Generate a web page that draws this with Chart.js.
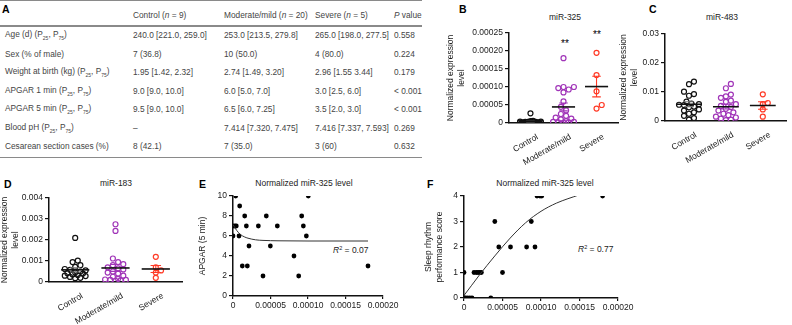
<!DOCTYPE html>
<html>
<head>
<meta charset="utf-8">
<script src="https://cdn.jsdelivr.net/npm/chart.js@4.4.0/dist/chart.umd.min.js"></script>
<style>
  body { margin: 0; background: #fff; font-family: "Liberation Sans", Arial, sans-serif; }
  #fig { position: relative; width: 792px; height: 325px; overflow: hidden; }
  .abs { position: absolute; white-space: nowrap; }
  .letter { font-weight: bold; font-size: 10.5px; color: #000; }
  .ptitle { font-size: 8.5px; color: #222; transform: translate(-50%, -50%); }
  .cell { font-size: 8.3px; color: #444; transform: translateY(-50%); }
  .rule { position: absolute; left: 0; width: 422px; background: #8a8a8a; }
  .r2 { font-size: 8.5px; color: #222; transform: translateY(-50%); }
  .r2 sup { font-size: 5.5px; vertical-align: 3px; }
  .stars { font-size: 10px; color: #000; transform: translate(-50%, -50%); }
  canvas { position: absolute; }
</style>
</head>
<body>
<div id="fig"></div>
<script>
// ---- table A ----
const tableHeaders = ['', 'Control (<i>n</i> = 9)', 'Moderate/mild (<i>n</i> = 20)', 'Severe (<i>n</i> = 5)', '<i>P</i> value'];
const rowLabels = ['Age (d) (P25, P75)', 'Sex (% of male)', 'Weight at birth (kg) (P25, P75)', 'APGAR 1 min (P25, P75)',
  'APGAR 5 min (P25, P75)', 'Blood pH (P25, P75)', 'Cesarean section cases (%)'];
const controlCol = ['240.0 [221.0, 259.0]', '7 (36.8)', '1.95 [1.42, 2.32]', '9.0 [9.0, 10.0]', '9.5 [9.0, 10.0]', '–', '8 (42.1)'];
const moderateCol = ['253.0 [213.5, 279.8]', '10 (50.0)', '2.74 [1.49, 3.20]', '6.0 [5.0, 7.0]', '6.5 [6.0, 7.25]', '7.414 [7.320, 7.475]', '7 (35.0)'];
const severeCol = ['265.0 [198.0, 277.5]', '4 (80.0)', '2.96 [1.55 3.44]', '3.0 [2.5, 6.0]', '3.5 [2.0, 3.0]', '7.416 [7.337, 7.593]', '3 (60)'];
const pCol = ['0.558', '0.224', '0.179', '< 0.001', '< 0.001', '0.269', '0.632'];

// ---- scatter dot plots (normalized expression) ----
const groups = ['Control', 'Moderate/mild', 'Severe'];
const b325Control = [0.000027, 0.000006, 0.000005, 0.000004, 0.000004, 0.000003, 0.000003, 0.000003, 0.000002, 0.000002,
  0.000002, 0.000002, 0.000001, 0.000001, 0.000001, 0.000001, 0.000001, 0.000001, 0.0000005];
const b325Moderate = [0.00018, 0.0001, 0.0001, 0.000097, 0.000093, 0.000085, 0.00006, 0.000045, 0.000035, 0.000025,
  0.00002, 0.000015, 0.000012, 0.00001, 0.000005, 0.000003, 0.000003, 0.000002, 0.000002, 0.000001];
const b325Severe = [0.000195, 0.000133, 0.000088, 0.00005, 0.00004];
const c483Control = [0.0136, 0.0127, 0.0101, 0.0093, 0.0087, 0.0067, 0.006, 0.0058, 0.0056, 0.0055,
  0.005, 0.0047, 0.004, 0.0036, 0.003, 0.0025, 0.0018, 0.001, 0.0005];
const c483Moderate = [0.0128, 0.0113, 0.0091, 0.0085, 0.008, 0.007, 0.0066, 0.0058, 0.0052, 0.0048,
  0.0042, 0.0036, 0.003, 0.0025, 0.002, 0.0015, 0.0012, 0.0008, 0.0005, 0.0003];
const c483Severe = [0.0092, 0.0062, 0.0058, 0.004, 0.0015];
const d183Control = [0.0021, 0.00102, 0.00095, 0.0008, 0.00072, 0.00062, 0.00058, 0.00055, 0.0005, 0.00045,
  0.00042, 0.0004, 0.00036, 0.00033, 0.0003, 0.00028, 0.00024, 0.0002, 0.00018];
const d183Moderate = [0.00275, 0.00243, 0.00112, 0.00095, 0.00085, 0.0008, 0.0007, 0.00065, 0.0006, 0.0005,
  0.00045, 0.0004, 0.0003, 0.00025, 0.00015, 0.00012, 0.0001, 0.0001, 0.00008, 0.00006];
const d183Severe = [0.0012, 0.0007, 0.00055, 0.00045, 0.0002];

// ---- correlation panels ----
const apgarX = [0.0000036, 0.0000089, 0.0000156, 0, 0.0000027, 0.0000044, 0.0000178, 0, 0.000008, 0.0000124,
  0.0000191, 0.0000213, 0.0000338, 0.00004, 0.0000444, 0.0000498, 0.0000591, 0.0000813, 0.0000876, 0.0000916,
  0.0000938, 0.0000978, 0.0001004, 0.00018];
const apgarY = [10, 9, 8, 7, 7, 7, 7, 6, 6, 3, 3, 5, 7, 2, 8, 5, 7, 4, 2, 8, 7, 6, 10, 3];
const apgarFitX = [0, 0.000002, 0.000005, 0.00001, 0.000015, 0.00002, 0.00003, 0.00004, 0.00006, 0.0001, 0.00018];
const apgarFitY = [7.15, 6.9, 6.55, 6.15, 5.92, 5.78, 5.62, 5.56, 5.52, 5.5, 5.5];
const sleepX = [0, 0, 0.0000017, 0.0000043, 0.0000074, 0.0000104, 0.000013, 0.000016, 0.0000183, 0.0000204, 0.0000226,
  0.0000348, 0.00004, 0.0000452, 0.00005, 0.0000604, 0.0000813, 0.0000874, 0.0000922, 0.0000948, 0.0000987, 0.000101, 0.00018];
const sleepY = [1, 0, 0, 0, 0, 0, 1, 1, 1, 1, 1, 0, 3, 2, 1, 2, 2, 3, 2, 4, 4, 4, 4];
const sleepFitX = [0, 0.00001, 0.00002, 0.00004, 0.00006, 0.00008, 0.0001, 0.00012, 0.00015];
const sleepFitY = [0.1, 0.5, 0.9, 1.65, 2.35, 2.95, 3.4, 3.72, 4.05];

const colorControl = '#111111';
const colorModerate = '#a034b8';
const colorSevere = '#ff3a26';

const fig = document.getElementById('fig');

function addDiv(cls, html, left, top) {
  const d = document.createElement('div');
  d.className = 'abs ' + cls;
  d.innerHTML = html;
  d.style.left = left + 'px';
  d.style.top = top + 'px';
  fig.appendChild(d);
  return d;
}

function withSubs(text) {
  return text.replace(/P(25|75)/g, 'P<sub style="font-size:5px">$1</sub>');
}

// table
const colX = [5, 133, 224, 315, 394];
const rowY = [35, 53.5, 72, 90.5, 109, 127.5, 146];
tableHeaders.forEach((h, i) => { if (h) addDiv('cell', h, colX[i], 15); });
[rowLabels, controlCol, moderateCol, severeCol, pCol].forEach((col, c) => {
  col.forEach((t, r) => addDiv('cell', withSubs(t), colX[c], rowY[r]));
});
[[0, 1], [25, 2], [157, 1]].forEach(([y, h]) => {
  const l = document.createElement('div');
  l.className = 'rule';
  l.style.top = y + 'px';
  l.style.height = h + 'px';
  fig.appendChild(l);
});

// letters, titles, annotations
addDiv('letter', 'A', 2, 3);
addDiv('letter', 'B', 459, 3);
addDiv('letter', 'C', 649, 3);
addDiv('letter', 'D', 4, 178);
addDiv('letter', 'E', 199, 178);
addDiv('letter', 'F', 427, 178);
addDiv('ptitle', 'miR-325', 565, 17);
addDiv('ptitle', 'miR-483', 722, 17);
addDiv('ptitle', 'miR-183', 116, 183);
addDiv('ptitle', 'Normalized miR-325 level', 304, 183);
addDiv('ptitle', 'Normalized miR-325 level', 545, 183);
addDiv('stars', '**', 565, 43);
addDiv('stars', '**', 597, 34);
addDiv('r2', '<i>R</i><sup>2</sup> = 0.07', 333, 250);
addDiv('r2', '<i>R</i><sup>2</sup> = 0.77', 578, 249);

Chart.defaults.font.family = '"Liberation Sans", Arial, sans-serif';
Chart.defaults.font.size = 8.5;
Chart.defaults.color = '#1a1a1a';
Chart.defaults.animation = false;
Chart.defaults.plugins.legend.display = false;
Chart.defaults.plugins.tooltip.enabled = false;

function makeCanvas(left, top, w, h) {
  const c = document.createElement('canvas');
  c.width = w; c.height = h;
  c.style.left = left + 'px'; c.style.top = top + 'px';
  c.style.width = w + 'px'; c.style.height = h + 'px';
  fig.appendChild(c);
  return c.getContext('2d');
}

function mean(a) { return a.reduce((s, v) => s + v, 0) / a.length; }
function sem(a) {
  const m = mean(a);
  const sd = Math.sqrt(a.reduce((s, v) => s + (v - m) * (v - m), 0) / (a.length - 1));
  return sd / Math.sqrt(a.length);
}

// spread points sideways so they don't sit on top of each other
function swarm(values, pxPerY, pxPerX, diam, maxPx) {
  const order = values.map((v, i) => i).sort((a, b) => values[a] - values[b]);
  const placed = [];
  const offs = new Array(values.length).fill(0);
  const slots = [0];
  for (let k = 1; k * diam * 0.5 <= maxPx; k++) slots.push(k * diam * 0.5, -k * diam * 0.5);
  order.forEach(i => {
    const py = values[i] * pxPerY;
    let best = 0, bestD = -1;
    for (const s of slots) {
      let dmin = Infinity;
      placed.forEach(p => { const d = Math.hypot(p.x - s, p.y - py); if (d < dmin) dmin = d; });
      if (dmin >= diam) { best = s; break; }
      if (dmin > bestD) { bestD = dmin; best = s; }
    }
    placed.push({ x: best, y: py });
    offs[i] = best / pxPerX;
  });
  return offs;
}

function yAxisFixed(w) { return s => { s.width = w; }; }
function xAxisFixed(h) { return s => { s.height = h; }; }

function dotPlot(ctx, opt) {
  const cols = [colorControl, colorModerate, colorSevere];
  const semCols = ['#777777', colorModerate, colorSevere];
  const pxX = opt.areaW / 3.3;
  const pxY = opt.areaH / opt.yMax;
  const lines = [];
  const dots = [];
  opt.data.forEach((vals, g) => {
    const x = g + 1;
    const m = mean(vals), s = sem(vals);
    lines.push({
      data: [{ x: x - 0.35, y: m }, { x: x + 0.35, y: m }],
      showLine: true, borderColor: '#111', borderWidth: 1.6, pointRadius: 0
    });
    lines.push({
      data: [{ x: x - 0.13, y: m + s }, { x: x + 0.13, y: m + s }, { x: x, y: null },
        { x: x, y: m + s }, { x: x, y: m - s }, { x: x, y: null },
        { x: x - 0.13, y: m - s }, { x: x + 0.13, y: m - s }],
      showLine: true, spanGaps: false, borderColor: semCols[g], borderWidth: 1.1, pointRadius: 0
    });
    const offs = swarm(vals, pxY, pxX, 5.2, 12);
    dots.push({
      data: vals.map((v, i) => ({ x: x + offs[i], y: v })),
      pointRadius: 2.5, borderWidth: 1.2, borderColor: cols[g], backgroundColor: 'rgba(0,0,0,0)'
    });
  });
  return new Chart(ctx, {
    type: 'scatter',
    data: { datasets: lines.concat(dots) },
    options: {
      responsive: false,
      layout: { padding: opt.padding },
      scales: {
        x: {
          type: 'linear', min: 0.35, max: 3.65,
          afterBuildTicks: s => { s.ticks = [{ value: 1 }, { value: 2 }, { value: 3 }]; },
          afterFit: xAxisFixed(opt.xH),
          grid: { display: false },
          border: { color: '#111', width: 1.5 },
          ticks: {
            autoSkip: false, maxRotation: 30, minRotation: 30, labelOffset: 7, padding: 1,
            callback: v => groups[v - 1]
          }
        },
        y: {
          min: 0, max: opt.yMax,
          afterBuildTicks: s => { s.ticks = opt.yTicks.map(v => ({ value: v })); },
          afterFit: yAxisFixed(opt.yW),
          grid: { drawOnChartArea: false, drawTicks: true, tickLength: 4, color: '#111', lineWidth: 1.2 },
          border: { color: '#111', width: 1.5 },
          ticks: { padding: 2, callback: v => (v === 0 ? '0' : v.toFixed(opt.dec)) },
          title: {
            display: true, text: ['Normalized expression', 'level'],
            padding: { top: opt.titlePad, bottom: 0 }, font: { size: 8.5 }
          }
        }
      }
    }
  });
}

dotPlot(makeCanvas(440, 0, 185, 170), {
  data: [b325Control, b325Moderate, b325Severe], yMax: 0.00025,
  yTicks: [0, 0.00005, 0.0001, 0.00015, 0.0002, 0.00025], dec: 5,
  padding: { top: 33, right: 7, left: 0, bottom: 0 }, yW: 69, xH: 47, titlePad: 6, areaW: 109, areaH: 90
});
dotPlot(makeCanvas(616, 0, 176, 170), {
  data: [c483Control, c483Moderate, c483Severe], yMax: 0.03,
  yTicks: [0, 0.01, 0.02, 0.03], dec: 2,
  padding: { top: 34, right: 0, left: 0, bottom: 0 }, yW: 49, xH: 49, titlePad: 3, areaW: 127, areaH: 87
});
dotPlot(makeCanvas(0, 175, 195, 150), {
  data: [d183Control, d183Moderate, d183Severe], yMax: 0.004,
  yTicks: [0, 0.001, 0.002, 0.003, 0.004], dec: 3,
  padding: { top: 23, right: 13, left: 0, bottom: 0 }, yW: 49, xH: 43, titlePad: 0, areaW: 133, areaH: 84
});

function corrPlot(ctx, opt) {
  return new Chart(ctx, {
    type: 'scatter',
    data: {
      datasets: [
        {
          data: opt.fitX.map((x, i) => ({ x: x, y: opt.fitY[i] })),
          showLine: true, cubicInterpolationMode: 'monotone', borderColor: '#333', borderWidth: 1, pointRadius: 0
        },
        {
          data: opt.x.map((x, i) => ({ x: x, y: opt.y[i] })),
          pointRadius: 2.4, borderWidth: 0, backgroundColor: '#000'
        }
      ]
    },
    options: {
      responsive: false,
      layout: { padding: opt.padding },
      scales: {
        x: {
          type: 'linear', min: 0, max: 0.0002,
          afterBuildTicks: s => { s.ticks = [0, 0.00005, 0.0001, 0.00015, 0.0002].map(v => ({ value: v })); },
          afterFit: xAxisFixed(opt.xH),
          grid: { drawOnChartArea: false, drawTicks: true, tickLength: 3, color: '#111', lineWidth: 1.2 },
          border: { color: '#111', width: 1.5 },
          ticks: { maxRotation: 0, padding: 2, callback: v => (v === 0 ? '0' : v.toFixed(5)) }
        },
        y: {
          min: 0, max: opt.yMax,
          afterBuildTicks: s => { s.ticks = opt.yTicks.map(v => ({ value: v })); },
          afterFit: yAxisFixed(opt.yW),
          grid: { drawOnChartArea: false, drawTicks: true, tickLength: 4, color: '#111', lineWidth: 1.2 },
          border: { color: '#111', width: 1.5 },
          ticks: { padding: 2 },
          title: { display: true, text: opt.yTitle, padding: { top: opt.titlePad, bottom: 0 }, font: { size: 8.5 } }
        }
      }
    }
  });
}

corrPlot(makeCanvas(198, 175, 205, 150), {
  x: apgarX, y: apgarY, fitX: apgarFitX, fitY: apgarFitY, yMax: 10, yTicks: [0, 2, 4, 6, 8, 10],
  yTitle: 'APGAR (5 min)', padding: { top: 21, right: 20, left: 0, bottom: 0 }, yW: 35, xH: 29, titlePad: 0
});
corrPlot(makeCanvas(420, 175, 220, 150), {
  x: sleepX, y: sleepY, fitX: sleepFitX, fitY: sleepFitY, yMax: 4, yTicks: [0, 1, 2, 3, 4],
  yTitle: ['Sleep rhythm', 'performance score'], padding: { top: 21, right: 22, left: 0, bottom: 0 }, yW: 44, xH: 27, titlePad: 4
});
</script>
</body>
</html>
